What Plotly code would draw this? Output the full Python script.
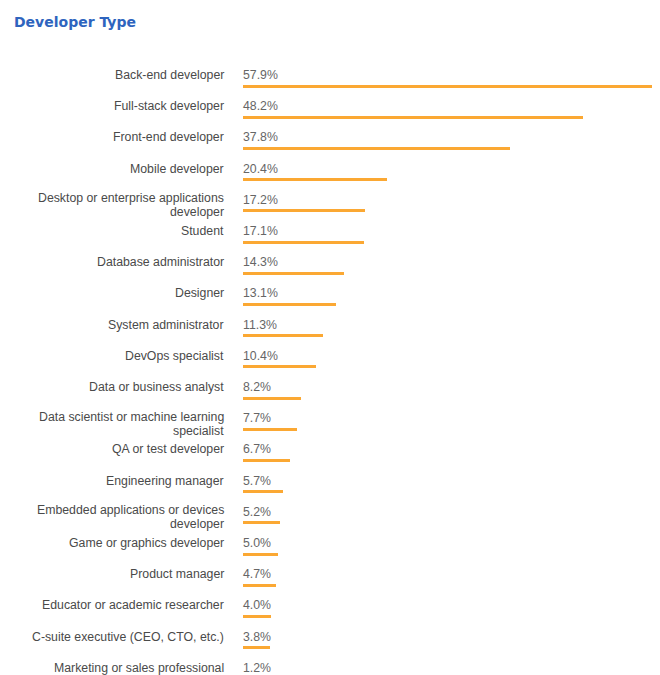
import plotly.graph_objects as go

# Survey results: share of respondents per developer type (%)
categories = [
    "Back-end developer",
    "Full-stack developer",
    "Front-end developer",
    "Mobile developer",
    "Desktop or enterprise applications\ndeveloper",
    "Student",
    "Database administrator",
    "Designer",
    "System administrator",
    "DevOps specialist",
    "Data or business analyst",
    "Data scientist or machine learning\nspecialist",
    "QA or test developer",
    "Engineering manager",
    "Embedded applications or devices\ndeveloper",
    "Game or graphics developer",
    "Product manager",
    "Educator or academic researcher",
    "C-suite executive (CEO, CTO, etc.)",
    "Marketing or sales professional",
]
values = [57.9, 48.2, 37.8, 20.4, 17.2, 17.1, 14.3, 13.1, 11.3, 10.4,
          8.2, 7.7, 6.7, 5.7, 5.2, 5.0, 4.7, 4.0, 3.8, 1.2]
title_text = "Developer Type"

W, H = 660, 675
ROW_PX = 31.2          # vertical distance between rows
FIRST_ROW_PX = 75      # pixel centre of the first row's text
LEFT, RIGHT = 243, 8   # plot area margins
LINE_PX = 14           # line spacing inside wrapped labels

n = len(categories)
rows = list(range(n))

BAR_COLOR = "#FBA833"
LABEL_COLOR = "#4a4a4a"
VALUE_COLOR = "#666666"
FONT = "Liberation Sans, Arial, sans-serif"
FS = 12.3

fig = go.Figure()
fig.add_trace(go.Bar(
    x=values,
    y=rows,
    orientation="h",
    width=3 / ROW_PX,
    offset=0.305,
    marker=dict(color=BAR_COLOR, line=dict(width=0)),
    hoverinfo="skip",
    showlegend=False,
))

annotations = []
for i, (cat, val) in enumerate(zip(categories, values)):
    # category label, right-aligned, wrapped lines hang below the first one
    lines = cat.split("\n")
    for k, line in enumerate(lines):
        annotations.append(dict(
            x=0, y=i, xref="x", yref="y",
            text=line, showarrow=False,
            xanchor="right", yanchor="middle",
            xshift=-17, yshift=1.5 * (len(lines) > 1) - LINE_PX * k,
            font=dict(family=FONT, size=FS, color=LABEL_COLOR),
        ))
    # value label sitting above the bar
    annotations.append(dict(
        x=0, y=i, xref="x", yref="y",
        text=f"{val:.1f}%", showarrow=False,
        xanchor="left", yanchor="middle",
        xshift=-2, yshift=0,
        font=dict(family=FONT, size=FS, color=VALUE_COLOR),
    ))

y_top = -FIRST_ROW_PX / ROW_PX
y_bottom = (H - FIRST_ROW_PX) / ROW_PX

fig.update_layout(
    width=W, height=H,
    margin=dict(l=LEFT, r=RIGHT, t=0, b=0, pad=0),
    paper_bgcolor="white",
    plot_bgcolor="white",
    annotations=annotations,
    bargap=0,
    title=dict(
        text=f"<b>{title_text}</b>",
        x=14 / W, xref="container", xanchor="left",
        y=1 - 22 / H, yref="container", yanchor="middle",
        font=dict(family="DejaVu Sans, sans-serif", size=14, color="#2E64BE"),
    ),
    xaxis=dict(range=[0, max(values)], visible=False, fixedrange=True),
    yaxis=dict(range=[y_bottom, y_top], visible=False, fixedrange=True),
)

fig.write_html("out.html")
